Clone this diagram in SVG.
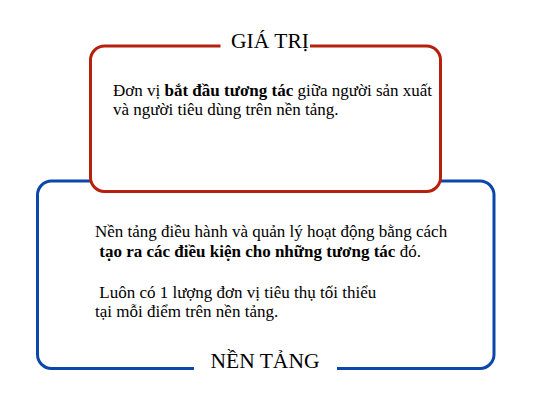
<svg xmlns="http://www.w3.org/2000/svg" width="534" height="400" viewBox="0 0 534 400">
<style>
.t{font-family:"Liberation Serif","Times New Roman",serif;fill:#000;font-size:17px}
.b{font-weight:bold}
.title{font-family:"Liberation Serif","Times New Roman",serif;fill:#000;font-size:21.5px}
.box{fill:#fff;stroke-width:3}
</style>
<rect width="534" height="400" fill="#fff"/>
<g id="nen-tang">
<rect class="box" x="37.5" y="181" width="456.5" height="187.5" rx="14" stroke="#0b47ab"/>
<rect x="194" y="355" width="143" height="25" fill="#fff"/>
<text class="title" x="265" y="368" text-anchor="middle">NỀN TẢNG</text>
<text class="t" x="95" y="237">Nền tảng điều hành và quản lý hoạt động bằng cách</text>
<text class="t" x="95" y="257" xml:space="preserve"> <tspan class="b">tạo ra các điều kiện cho những tương tác</tspan> đó.</text>
<text class="t" x="95" y="298" xml:space="preserve"> Luôn có 1 lượng đơn vị tiêu thụ tối thiểu</text>
<text class="t" x="95" y="317">tại mỗi điểm trên nền tảng.</text>
</g>
<g id="gia-tri">
<rect class="box" x="90.5" y="46" width="350" height="145.5" rx="14" stroke="#b8200e"/>
<rect x="220.5" y="30" width="89.5" height="25" fill="#fff"/>
<text class="title" x="270" y="48" text-anchor="middle">GIÁ TRỊ</text>
<text class="t" x="113" y="95.5">Đơn vị <tspan class="b">bắt đầu tương tác</tspan> giữa người sản xuất</text>
<text class="t" x="113" y="115">và người tiêu dùng trên nền tảng.</text>
</g>
<g id="connectors"/>
</svg>
